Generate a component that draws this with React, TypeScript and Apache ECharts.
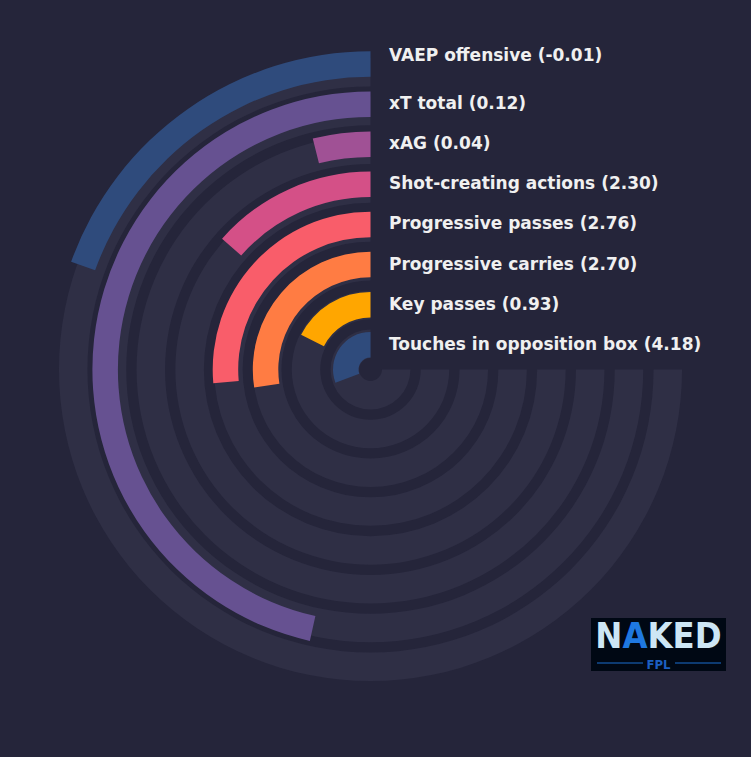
import { useEffect, useRef } from 'react'
import * as echarts from 'echarts'

// categories from the inside ring to the outside ring
const metrics = [
  'Touches in opposition box',
  'Key passes',
  'Progressive carries',
  'Progressive passes',
  'Shot-creating actions',
  'xAG',
  'xT total',
  'VAEP offensive',
]
const rawValues = ['4.18', '0.93', '2.70', '2.76', '2.30', '0.04', '0.12', '-0.01']
// percentile ranks (bar length, 100 = 270 degrees)
const percentiles = [41, 23.5, 36.6, 35.2, 18, 5.2, 62, 26]
const colors = ['#2f4b7c', '#ffa600', '#ff7c43', '#f95d6a', '#d45087', '#a05195', '#665191', '#2f4b7c']

const BG = '#25253a'
const TRACK = '#2f2f45'

export default function App() {
  const chartRef = useRef<HTMLDivElement>(null)

  useEffect(() => {
    if (!chartRef.current) return
    document.body.style.margin = '0'
    document.body.style.background = BG

    const chart = echarts.init(chartRef.current, null, { renderer: 'svg' })

    const cx = 370.5
    const cy = 369.5
    const n = metrics.length
    // tracks and bars sit on slightly different ring spacings
    const trackInner = 6.3
    const trackBand = 38.8
    const barInner = 4.7
    const barBand = 40.1

    const labels = metrics.map((m, i) => {
      const r = barInner + barBand * i + barBand / 2 + 1
      const y = i === n - 1 ? cy - r - 8 : cy - r
      return {
        type: 'text',
        x: 389,
        y,
        style: {
          text: `${m} (${rawValues[i]})`,
          fill: '#f0f0f0',
          font: 'bold 17px "DejaVu Sans"',
          textVerticalAlign: 'middle',
        },
      }
    })

    const angleAxis = (polarIndex: number) => ({
      polarIndex,
      type: 'value',
      min: 0,
      max: 400 / 3,
      startAngle: 90,
      clockwise: false,
      show: false,
    })
    const radiusAxis = (polarIndex: number) => ({
      polarIndex,
      type: 'category',
      data: metrics,
      show: false,
    })

    chart.setOption({
      animation: false,
      backgroundColor: BG,
      polar: [
        { center: [cx, cy], radius: [trackInner, trackInner + trackBand * n] },
        { center: [cx, cy], radius: [barInner, barInner + barBand * n] },
      ],
      angleAxis: [angleAxis(0), angleAxis(1)],
      radiusAxis: [radiusAxis(0), radiusAxis(1)],
      series: [
        {
          type: 'bar',
          coordinateSystem: 'polar',
          polarIndex: 0,
          data: metrics.map(() => 100),
          barWidth: 28.5,
          itemStyle: { color: TRACK },
          silent: true,
        },
        {
          type: 'bar',
          coordinateSystem: 'polar',
          polarIndex: 1,
          data: percentiles.map((v, i) => ({ value: v, itemStyle: { color: colors[i] } })),
          barWidth: 25.5,
        },
      ],
      graphic: [
        ...labels,
        {
          type: 'group',
          x: 591,
          y: 618,
          children: [
            { type: 'rect', shape: { x: 0, y: 0, width: 135, height: 53 }, style: { fill: '#000814' } },
            {
              type: 'text',
              x: 67.5,
              y: 17,
              style: {
                text: '{a|N}{b|A}{a|KED}',
                textAlign: 'center',
                textVerticalAlign: 'middle',
                rich: {
                  a: { fill: '#cde6f5', font: 'bold 36px "DejaVu Sans Condensed"', lineHeight: 28 },
                  b: { fill: '#1f78e0', font: 'bold 36px "DejaVu Sans Condensed"', lineHeight: 28 },
                },
              },
            },
            {
              type: 'line',
              shape: { x1: 6, y1: 45, x2: 52, y2: 45 },
              style: { stroke: '#1b6fd0', lineWidth: 1 },
            },
            {
              type: 'line',
              shape: { x1: 84, y1: 45, x2: 130, y2: 45 },
              style: { stroke: '#1b6fd0', lineWidth: 1 },
            },
            {
              type: 'text',
              x: 67.5,
              y: 46,
              style: {
                text: 'FPL',
                fill: '#1c5fc0',
                font: 'bold 13px "DejaVu Sans Condensed"',
                textAlign: 'center',
                textVerticalAlign: 'middle',
              },
            },
          ],
        },
      ],
    })

    return () => {
      chart.dispose()
    }
  }, [])

  return (
    <div
      ref={chartRef}
      style={{ position: 'fixed', left: 0, top: 0, width: '751px', height: '757px' }}
    />
  )
}
